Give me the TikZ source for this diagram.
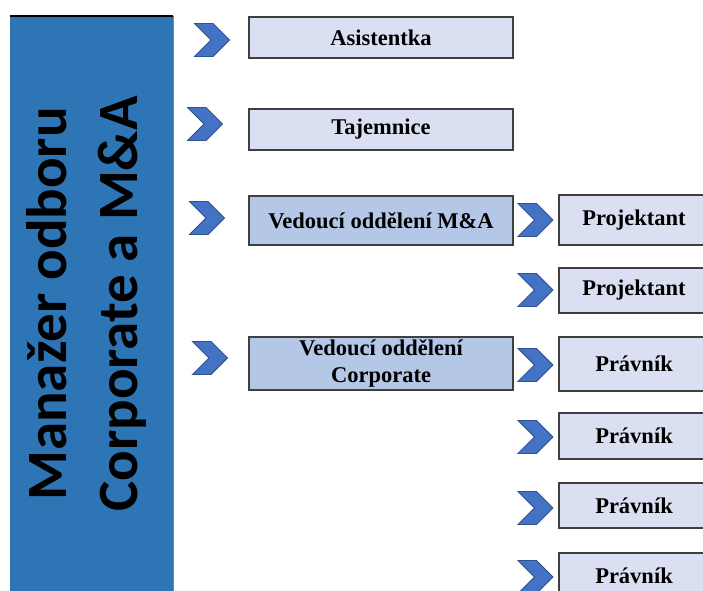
\documentclass[tikz,border=0pt]{standalone}
\usepackage{fontspec}
\setmainfont{Liberation Serif}
\newfontfamily\headfont{Carlito}
\usepackage{xcolor}
\usepackage{tikz}
\usetikzlibrary{shapes.symbols}
\definecolor{barblue}{HTML}{2E75B6}
\definecolor{baredge}{HTML}{5B8BD8}
\definecolor{chevfill}{HTML}{4472C4}
\definecolor{chevedge}{HTML}{2F528F}
\definecolor{lightbox}{HTML}{DAE0F2}
\definecolor{midbox}{HTML}{B4C7E7}
\definecolor{boxedge}{HTML}{3F3F3F}
\tikzset{
  role/.style={draw=boxedge, fill=lightbox, line width=1.1pt, inner sep=0pt,
    font=\fontsize{22.5}{27}\selectfont\bfseries, align=center},
  lead/.style={role, fill=midbox},
  chev/.style={signal, signal from=west, signal to=east, draw=chevedge, fill=chevfill,
    line width=0.9pt, inner sep=0pt, minimum width=35pt, minimum height=33pt},
  headtxt/.style={font=\headfont\fontsize{57}{71}\selectfont\bfseries, align=center, rotate=90},
}

\begin{document}
\begin{tikzpicture}[x=1pt,y=-1pt]
  \useasboundingbox (0,0) rectangle (703,590);
  \clip (0,0) rectangle (703,590);
  % head of department
  \fill[barblue] (10,16) rectangle (173,600);
  \draw[baredge, line width=1pt] (173,16) -- (173,600);
  \draw[black, line width=1.2pt] (10,16) -- (173,16);
  \node[headtxt] (head) at (86,304) {Manažer odboru\\Corporate a M\&A};
  % first level
  \node[role, minimum width=264pt, minimum height=41pt] (asist) at (381,37.5) {Asistentka};
  \node[role, minimum width=264pt, minimum height=41pt] (tajem) at (381,129.5) {Tajemnice};
  \node[lead, minimum width=264pt, minimum height=49pt] (vedma) at (381,220.5) {Vedoucí oddělení M\&A};
  \node[lead, minimum width=264pt, minimum height=53pt] (vedcorp) at (381,363.5) {Vedoucí oddělení\\Corporate};
  \node[chev] (c1) at (212,40) {};
  \node[chev] (c2) at (205,124) {};
  \node[chev] (c3) at (207,218) {};
  \node[chev] (c4) at (210,358) {};
  % second level
  \node[role, minimum width=150pt, minimum height=50pt] (proj1) at (634,220) {Projektant};
  \node[role, minimum width=150pt, minimum height=45pt] (proj2) at (634,290.5) {Projektant};
  \node[role, minimum width=150pt, minimum height=54pt] (prav1) at (634,364) {Právník};
  \node[role, minimum width=150pt, minimum height=46pt] (prav2) at (634,436) {Právník};
  \node[role, minimum width=150pt, minimum height=45pt] (prav3) at (634,505.5) {Právník};
  \node[role, minimum width=150pt, minimum height=46pt] (prav4) at (634,576) {Právník};
  \foreach \y [count=\i] in {220,290,365,437,508,577}
    \node[chev] (r\i) at (535.5,\y) {};
\end{tikzpicture}
\end{document}
